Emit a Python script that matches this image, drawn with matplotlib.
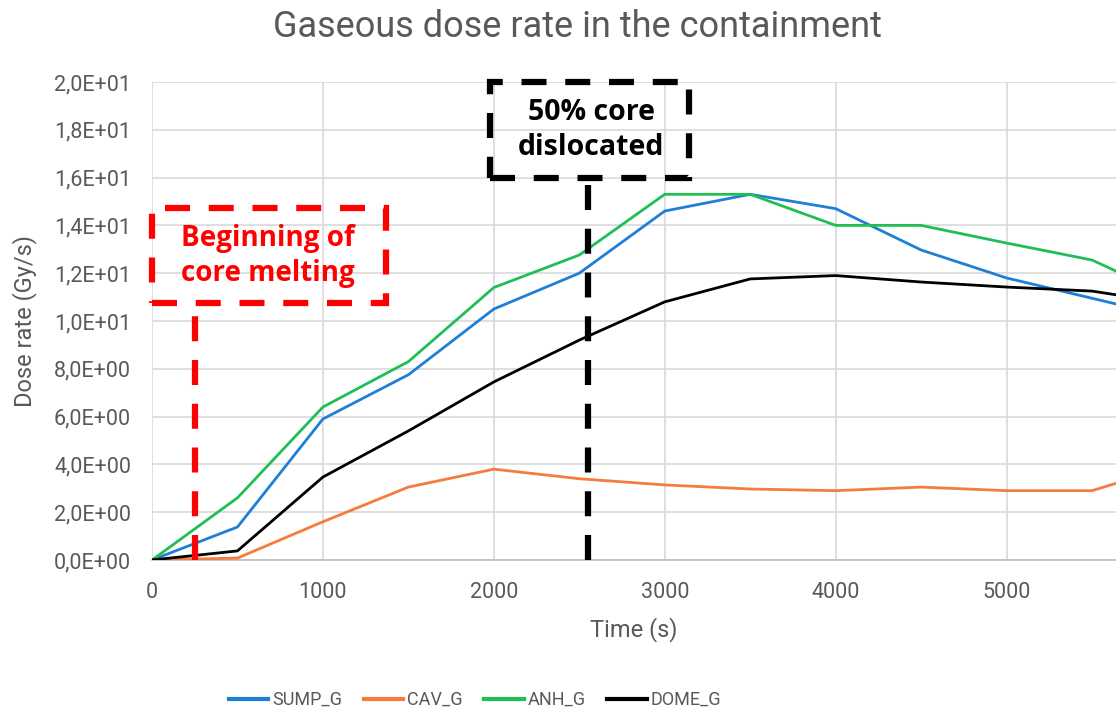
import matplotlib
matplotlib.use("Agg")
import matplotlib.pyplot as plt
from matplotlib.patches import Rectangle
from matplotlib.ticker import FuncFormatter, MultipleLocator

plt.rcParams['font.family'] = ['Roboto', 'DejaVu Sans']

time_s = [0, 500, 1000, 1500, 2000, 2500, 3000, 3500, 4000, 4500, 5000, 5500, 6000]
sump_g = [0.0, 1.38, 5.9, 7.75, 10.5, 12.0, 14.6, 15.3, 14.7, 12.97, 11.8, 10.95, 10.1]
cav_g = [0.0, 0.08, 1.6, 3.05, 3.8, 3.4, 3.14, 2.97, 2.9, 3.05, 2.9, 2.9, 4.0]
anh_g = [0.0, 2.6, 6.4, 8.3, 11.4, 12.76, 15.3, 15.3, 14.0, 14.0, 13.26, 12.55, 10.9]
dome_g = [0.0, 0.38, 3.47, 5.4, 7.45, 9.2, 10.8, 11.76, 11.9, 11.63, 11.42, 11.25, 10.7]

series_names = ["SUMP_G", "CAV_G", "ANH_G", "DOME_G"]
series_colors = ["#1f7fd6", "#f47c3c", "#1fbf55", "#000000"]

melt_time = 250
dislocated_time = 2550

GREY = "#595959"

fig = plt.figure(figsize=(11.16, 7.11), dpi=100)
ax = fig.add_axes([0.1362, 0.2124, 0.8638, 0.6723])

for name, vals, col in zip(series_names, [sump_g, cav_g, anh_g, dome_g], series_colors):
    ax.plot(time_s, vals, color=col, lw=2.0, label=name, zorder=3, solid_joinstyle='round')

ax.set_xlim(0, 5640)
ax.set_ylim(0, 20)
ax.xaxis.set_major_locator(MultipleLocator(1000))
ax.yaxis.set_major_locator(MultipleLocator(2))
ax.yaxis.set_major_formatter(FuncFormatter(lambda v, p: ("%.1E" % v).replace(".", ",")))
ax.grid(True, color="#d9d9d9", lw=1.2, zorder=0)
for s in ["top", "right", "left"]:
    ax.spines[s].set_visible(False)
ax.spines["bottom"].set_color("#bfbfbf")
ax.spines["bottom"].set_linewidth(1.2)
ax.tick_params(axis="both", length=0, labelsize=15.5, colors=GREY)
ax.tick_params(axis="x", pad=16)
ax.tick_params(axis="y", pad=15)
ax.set_xlabel("Time (s)", fontsize=17, color=GREY, labelpad=10)
ax.set_ylabel("Dose rate (Gy/s)", fontsize=17, color=GREY, labelpad=12)
fig.text(0.517, 0.962, "Gaseous dose rate in the containment", fontsize=26, color=GREY,
         ha="center", va="center")

ann_font = ['Open Sans', 'DejaVu Sans']
dash = (0, (4, 3))

# annotation: beginning of core melting
ax.add_patch(Rectangle((0, 10.75), 1368, 3.98, fill=False, ec="#ff0000", lw=4.5,
                       ls=dash, zorder=5, clip_on=False))
ax.plot([melt_time, melt_time], [0, 10.75], color="#ff0000", lw=4.5, ls=dash, zorder=5)
ax.text(680, 12.72, "Beginning of\ncore melting", color="#ff0000", fontsize=20,
        family=ann_font, fontweight="bold", ha="center", va="center", linespacing=1.25, zorder=6)

# annotation: 50% core dislocated
ax.add_patch(Rectangle((1977, 16.0), 1163, 4.0, fill=False, ec="#000000", lw=4.5,
                       ls=dash, zorder=5, clip_on=False))
ax.plot([dislocated_time, dislocated_time], [0, 16.0], color="#000000", lw=4.5,
        ls=dash, zorder=5)
ax.text(2570, 18.0, "50% core\ndislocated", color="#000000", fontsize=20.5,
        family=ann_font, fontweight="bold", ha="center", va="center", linespacing=1.25, zorder=6)

leg = fig.legend(loc="center", bbox_to_anchor=(475 / 1116, 1 - 700 / 711), ncol=4,
                 frameon=False, fontsize=13, handlelength=2.2, columnspacing=1.2,
                 handletextpad=0.2)
for t in leg.get_texts():
    t.set_color(GREY)
for h in leg.legend_handles:
    h.set_linewidth(3)

fig.savefig("out.png", dpi=100)
